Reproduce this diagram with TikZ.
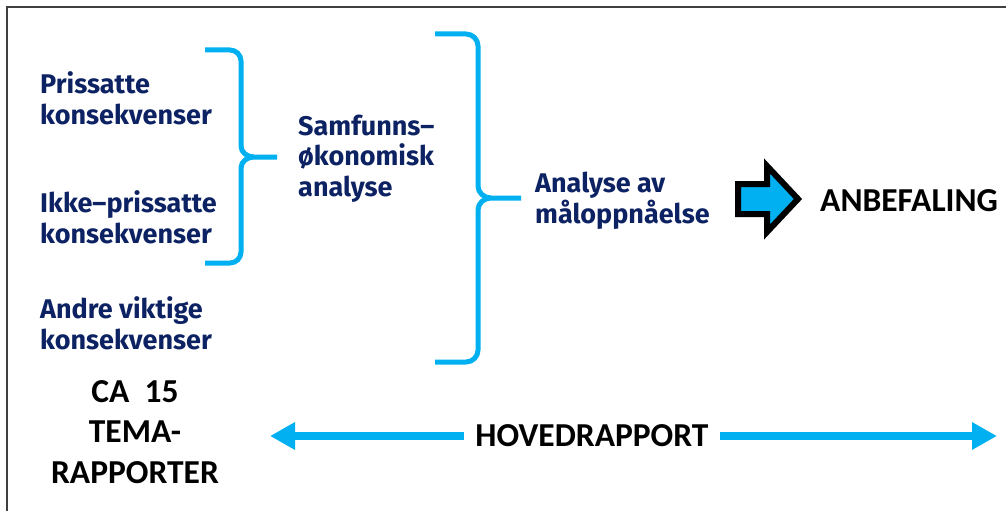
\documentclass[tikz,border=0pt]{standalone}
\usepackage{fontspec}
\newfontfamily\bluefont{Fira Sans}
\newfontfamily\blackfont{Carlito}
\definecolor{navy_t}{RGB}{12,34,98}
\definecolor{cyan_a}{RGB}{0,176,240}
\definecolor{frame_c}{RGB}{64,64,64}
\usetikzlibrary{arrows.meta,
                positioning}

\begin{document}
\begin{tikzpicture}[
			x=1pt, y=-1pt,
			bluetext/.style = {font=\bluefont\bfseries\fontsize{27}{30.5}\selectfont, text=navy_t, align=left, anchor=base west, inner sep=0pt},
			blacktext/.style = {font=\blackfont\bfseries\fontsize{33.5}{40.5}\selectfont, align=center, inner sep=0pt},
			brace/.style = {line width=5pt, draw=cyan_a, line join=round},
			longarrow/.style = {line width=8pt, draw=cyan_a, -{Triangle[length=25pt, width=26pt]}},
			bigarrow/.style = {line width=6pt, draw=black, fill=cyan_a},
			]
			\useasboundingbox (0,0) rectangle (1006,511);
			% frame
			\draw[frame_c, line width=2pt] (7,511) -- (7,7) -- (1006,7);
			% texts (base = last line)
			\node[bluetext] (pris) at (40,124) {Prissatte\\konsekvenser};
			\node[bluetext] (ikke) at (40,243) {Ikke–prissatte\\konsekvenser};
			\node[bluetext] (andre) at (40,349) {Andre viktige\\konsekvenser};
			\node[bluetext] (samf) at (298,196) {Samfunns–\\økonomisk\\analyse};
			\node[bluetext] (maal) at (535,223) {Analyse av\\måloppnåelse};
			\node[blacktext, anchor=base west] (anbef) at (820,211) {ANBEFALING};
			\node[blacktext, anchor=base] (tema) at (135,483) {CA\ \ 15\\TEMA-\\RAPPORTER};
			\node[blacktext, inner sep=11pt] (hoved) at (592,436) {HOVEDRAPPORT};
			% braces
			\draw[brace] (205,50) -- (230,50) to[out=0,in=90] (241,61) -- (241,146)
			      to[out=-90,in=180] (254,157) -- (277,157)
			      (254,157) to[out=180,in=90] (241,168) -- (241,252)
			      to[out=-90,in=0] (230,263) -- (205,263);
			\draw[brace] (435,34) -- (466,34) to[out=0,in=90] (478,46) -- (478,186)
			      to[out=-90,in=180] (491,198) -- (521,198)
			      (491,198) to[out=180,in=90] (478,210) -- (478,350)
			      to[out=-90,in=0] (466,362) -- (435,362);
			% big arrow
			\draw[bigarrow] (738,184) -- (767,184) -- (767,166) -- (798,199)
			      -- (767,232) -- (767,214) -- (738,214) -- cycle;
			% edges
			\coordinate (lefttip) at (270,436);
			\coordinate (righttip) at (997,436);
			\path[]
			(hoved.west) edge[longarrow] (lefttip)
			(hoved.east) edge[longarrow] (righttip)
			;
		\end{tikzpicture}
\end{document}
